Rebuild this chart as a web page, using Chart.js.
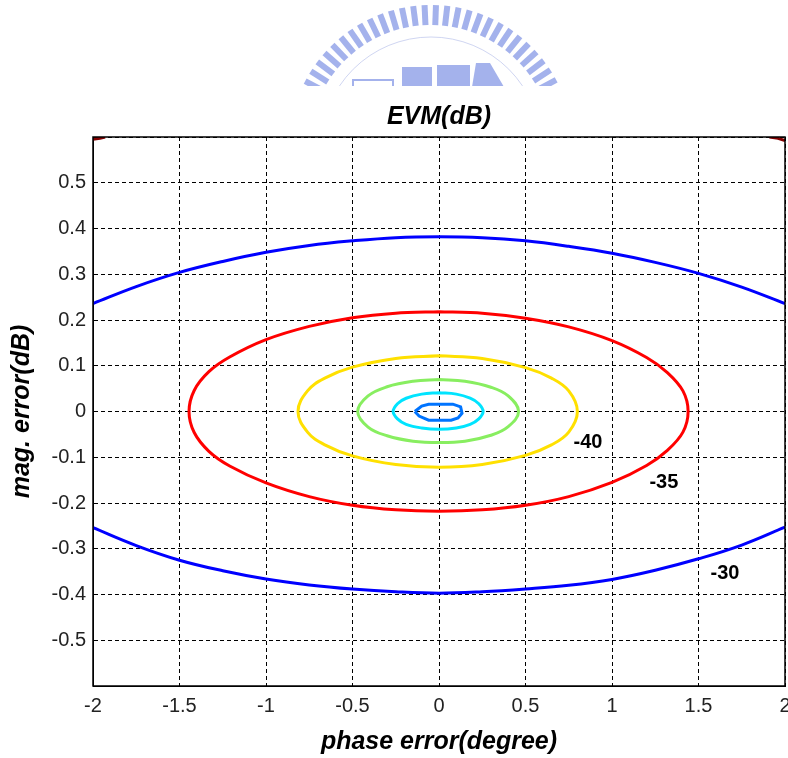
<!DOCTYPE html>
<html>
<head>
<meta charset="utf-8">
<title>EVM(dB)</title>
<script src="https://cdn.jsdelivr.net/npm/chart.js@4/dist/chart.umd.min.js"></script>
<style>
  html, body { margin: 0; padding: 0; background: #fff; }
  #evmChart { display: block; }
</style>
</head>
<body>
<canvas id="evmChart" width="788" height="758"></canvas>
<script>
// ---- datos ----
const phaseTicks = [-2, -1.5, -1, -0.5, 0, 0.5, 1, 1.5, 2];
const magTicks = [-0.5, -0.4, -0.3, -0.2, -0.1, 0, 0.1, 0.2, 0.3, 0.4, 0.5];
const contourLevels = ["-30", "-35", "-40"];

// -30 dB (dos ramas abiertas)
const evm30Upper = [
  [-2, 0.236], [-1.75, 0.273], [-1.5, 0.304], [-1.25, 0.328], [-1, 0.348],
  [-0.75, 0.363], [-0.5, 0.373], [-0.25, 0.380], [0, 0.382], [0.25, 0.380],
  [0.5, 0.373], [0.75, 0.361], [1, 0.346], [1.25, 0.326], [1.5, 0.302],
  [1.75, 0.272], [2, 0.236]
];
const evm30Lower = [
  [-2, -0.254], [-1.75, -0.293], [-1.5, -0.325], [-1.25, -0.348], [-1, -0.366],
  [-0.75, -0.379], [-0.5, -0.388], [-0.25, -0.394], [0, -0.397], [0.25, -0.394],
  [0.5, -0.388], [0.75, -0.380], [1, -0.367], [1.25, -0.347], [1.5, -0.322],
  [1.75, -0.292], [2, -0.253]
];
// -35 dB
const evm35 = [
  [0, 0.218], [0.25, 0.215], [0.5, 0.204], [0.75, 0.185], [1, 0.155],
  [1.2, 0.118], [1.32, 0.085], [1.41, 0.045], [1.44, 0], [1.41, -0.045],
  [1.32, -0.085], [1.2, -0.118], [1, -0.155], [0.75, -0.186], [0.5, -0.205],
  [0.25, -0.215], [0, -0.218], [-0.25, -0.215], [-0.5, -0.205], [-0.75, -0.186],
  [-1, -0.156], [-1.21, -0.119], [-1.33, -0.087], [-1.415, -0.046], [-1.445, 0],
  [-1.415, 0.046], [-1.33, 0.087], [-1.21, 0.119], [-1, 0.157], [-0.75, 0.186],
  [-0.5, 0.205], [-0.25, 0.215], [0, 0.218]
];
// -40 dB
const evm40 = [
  [0, 0.122], [0.25, 0.116], [0.5, 0.096], [0.65, 0.073], [0.75, 0.045],
  [0.8, 0], [0.75, -0.045], [0.65, -0.073], [0.5, -0.096], [0.25, -0.116],
  [0, -0.122], [-0.25, -0.116], [-0.5, -0.097], [-0.66, -0.073], [-0.76, -0.045],
  [-0.815, 0], [-0.76, 0.045], [-0.66, 0.073], [-0.5, 0.097], [-0.25, 0.116], [0, 0.122]
];
// -45 dB
const evm45 = [
  [0, 0.07], [0.15, 0.066], [0.3, 0.053], [0.4, 0.034], [0.46, 0],
  [0.4, -0.033], [0.3, -0.052], [0.15, -0.065], [0, -0.068], [-0.15, -0.065],
  [-0.3, -0.053], [-0.41, -0.034], [-0.47, 0], [-0.41, 0.034], [-0.3, 0.054],
  [-0.15, 0.066], [0, 0.07]
];
// -50 dB
const evm50 = [
  [0, 0.041], [0.1, 0.038], [0.18, 0.029], [0.23, 0.017], [0.255, 0],
  [0.23, -0.016], [0.18, -0.028], [0.1, -0.036], [0, -0.039], [-0.1, -0.036],
  [-0.19, -0.028], [-0.24, -0.016], [-0.265, 0], [-0.24, 0.017], [-0.19, 0.029],
  [-0.1, 0.038], [0, 0.041]
];
// -55 dB (poligono pequeño)
const evm55 = [
  [-0.14, 0], [-0.1, 0.012], [-0.06, 0.016], [0.08, 0.016], [0.125, 0.01],
  [0.133, -0.004], [0.11, -0.014], [0.07, -0.019], [-0.06, -0.019], [-0.115, -0.01],
  [-0.14, 0]
];
// -25 dB (solo asoma en las esquinas de arriba)
const evm25Left = [[-2, 0.595], [-1.96, 0.597], [-1.93, 0.6]];
const evm25Right = [[1.91, 0.6], [1.96, 0.597], [2, 0.592]];

// posiciones de las etiquetas de nivel (coordenadas de datos)
const labelAnchors = [[1.653, -0.354], [1.30, -0.155], [0.861, -0.068]];

const FONT = "'Liberation Sans', Arial, sans-serif";

function toXY(arr) {
  return arr.map(([x, y]) => ({ x, y }));
}

function contour(data, color, tension) {
  return {
    data: toXY(data),
    showLine: true,
    borderColor: color,
    borderWidth: 3,
    pointRadius: 0,
    tension: tension,
    fill: false
  };
}

function fmt(v) {
  return String(Number(v.toFixed(1)));
}

// logo tenue de fondo (marca de agua)
const watermarkPlugin = {
  id: "watermark",
  beforeDraw(chart) {
    const ctx = chart.ctx;
    ctx.save();
    ctx.fillStyle = "#fff";
    ctx.fillRect(0, 0, chart.width, chart.height);
    ctx.beginPath();
    ctx.rect(0, 0, chart.width, 86);
    ctx.clip();
    ctx.fillStyle = "#a4b2ec";
    const cx = 431, cy = 147, rOut = 142, len = 20;
    for (let a = 180; a <= 360; a += 4.6) {
      const t = a * Math.PI / 180;
      ctx.save();
      ctx.translate(cx + Math.cos(t) * (rOut - len / 2), cy + Math.sin(t) * (rOut - len / 2));
      ctx.rotate(t);
      ctx.fillRect(-len / 2, -3, len, 6);
      ctx.restore();
    }
    ctx.strokeStyle = "#d0d6f2";
    ctx.lineWidth = 1;
    ctx.beginPath();
    ctx.arc(cx, cy, 110, Math.PI, 2 * Math.PI);
    ctx.stroke();
    ctx.fillRect(402, 67, 30, 20);
    ctx.fillRect(437, 65, 33, 22);
    ctx.beginPath();
    ctx.moveTo(472, 87); ctx.lineTo(476, 63); ctx.lineTo(490, 63); ctx.lineTo(504, 87);
    ctx.closePath();
    ctx.fill();
    ctx.strokeStyle = "#a4b2ec";
    ctx.lineWidth = 2;
    ctx.strokeRect(353, 80, 40, 8);
    ctx.restore();
  }
};

// caja del eje y etiquetas de nivel
const framePlugin = {
  id: "frame",
  afterDraw(chart) {
    const { ctx, chartArea, scales } = chart;
    ctx.save();
    ctx.strokeStyle = "#000";
    ctx.lineWidth = 1.5;
    ctx.strokeRect(chartArea.left, chartArea.top,
      chartArea.right - chartArea.left, chartArea.bottom - chartArea.top);

    ctx.fillStyle = "#000";
    ctx.font = "bold 20px " + FONT;
    ctx.textAlign = "center";
    ctx.textBaseline = "middle";
    contourLevels.forEach((txt, i) => {
      const [lx, ly] = labelAnchors[i];
      ctx.fillText(txt, scales.x.getPixelForValue(lx), scales.y.getPixelForValue(ly));
    });
    ctx.restore();
  }
};

new Chart(document.getElementById("evmChart"), {
  type: "scatter",
  data: {
    datasets: [
      contour(evm30Upper, "#0000ff", 0.4),
      contour(evm30Lower, "#0000ff", 0.4),
      contour(evm35, "#ff0000", 0.3),
      contour(evm40, "#ffe000", 0.4),
      contour(evm45, "#88ee60", 0.4),
      contour(evm50, "#00e4ff", 0.4),
      contour(evm55, "#0074ff", 0),
      contour(evm25Left, "#800000", 0),
      contour(evm25Right, "#800000", 0)
    ]
  },
  options: {
    responsive: false,
    animation: false,
    layout: { padding: { top: 0, left: 0, right: 3, bottom: 0 } },
    plugins: {
      legend: { display: false },
      tooltip: { enabled: false },
      title: {
        display: true,
        fullSize: false,
        text: "EVM(dB)",
        color: "#000",
        font: { family: FONT, size: 25, weight: "bold", style: "italic" },
        padding: { top: 102, bottom: 5 }
      }
    },
    scales: {
      x: {
        type: "linear",
        min: -2,
        max: 2,
        afterBuildTicks: (s) => { s.ticks = phaseTicks.map((v) => ({ value: v })); },
        afterFit: (s) => { s.height = 72; s.paddingLeft = 0; s.paddingRight = 0; },
        ticks: {
          color: "#222",
          padding: 8,
          maxRotation: 0,
          autoSkip: false,
          font: { family: FONT, size: 20 },
          callback: (v) => fmt(v)
        },
        grid: { color: "#000", lineWidth: 1, drawTicks: false, tickLength: 0 },
        border: { display: true, color: "#000", dash: [4, 3] },
        title: {
          display: true,
          text: "phase error(degree)",
          color: "#000",
          font: { family: FONT, size: 25, weight: "bold", style: "italic" },
          padding: { top: 0, bottom: 1 }
        }
      },
      y: {
        type: "linear",
        min: -0.6,
        max: 0.6,
        afterBuildTicks: (s) => { s.ticks = [-0.6].concat(magTicks, [0.6]).map((v) => ({ value: v })); },
        afterFit: (s) => { s.width = 93; s.paddingTop = 0; s.paddingBottom = 0; },
        ticks: {
          color: "#222",
          padding: 7,
          autoSkip: false,
          font: { family: FONT, size: 20 },
          callback: (v) => (Math.abs(v) > 0.55 ? "" : fmt(v))
        },
        grid: { color: "#000", lineWidth: 1, drawTicks: false, tickLength: 0 },
        border: { display: true, color: "#000", dash: [4, 3] },
        title: {
          display: true,
          text: "mag. error(dB)",
          color: "#000",
          font: { family: FONT, size: 25, weight: "bold", style: "italic" },
          padding: { top: 7, bottom: 0 }
        }
      }
    }
  },
  plugins: [watermarkPlugin, framePlugin]
});
</script>
</body>
</html>
